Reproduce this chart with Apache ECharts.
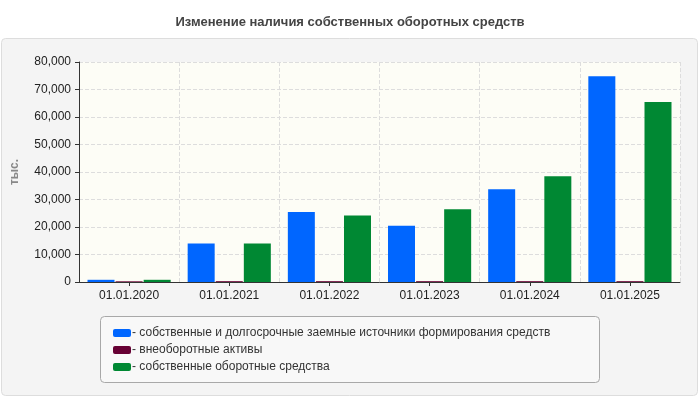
<!DOCTYPE html>
<html>
<head>
<meta charset="utf-8">
<script src="https://cdn.jsdelivr.net/npm/echarts@6/dist/echarts.min.js"></script>
<style>html,body{margin:0;padding:0;background:#fff}#main{width:700px;height:400px}</style>
</head>
<body>
<div id="main"></div>
<script>
const categories = ['01.01.2020', '01.01.2021', '01.01.2022', '01.01.2023', '01.01.2024', '01.01.2025'];
const ownAndLongTerm = [800, 14000, 25500, 20500, 33700, 74800];
const nonCurrent = [250, 300, 300, 300, 300, 300];
const ownCurrent = [800, 14000, 24200, 26500, 38500, 65500];
const yTicks = [0, 80000, 10000]; // min, max, interval

const chart = echarts.init(document.getElementById('main'));
const barCommon = { type: 'bar', barWidth: 27, barGap: '4%' };
chart.setOption({
    animation: false,
    textStyle: { fontFamily: 'Arial, "Liberation Sans", sans-serif' },
    title: {
        text: 'Изменение наличия собственных оборотных средств',
        left: 'center', top: 11,
        textStyle: { fontSize: 13, fontWeight: 'bold', color: '#444' }
    },
    graphic: [{
        type: 'rect', z: -10, silent: true,
        shape: { x: 1.5, y: 38.5, width: 696, height: 357, r: 4 },
        style: { fill: '#f4f4f4', stroke: '#dddddd', lineWidth: 1 }
    }, {
        type: 'rect', z: -5, silent: true,
        shape: { x: 100.5, y: 316.5, width: 499, height: 66, r: 4 },
        style: { fill: '#f8f8f8', stroke: '#a8a8a8', lineWidth: 1 }
    }],
    grid: { left: 79, right: 20, top: 62, bottom: 118, show: true, backgroundColor: '#fdfdf6', borderWidth: 0 },
    legend: {
        orient: 'vertical', left: 108, top: 322, itemGap: 5,
        itemWidth: 18, itemHeight: 8, icon: 'roundRect',
        formatter: name => '- ' + name,
        textStyle: { fontSize: 12, color: '#333', padding: [0, 0, 0, -4] }
    },
    xAxis: {
        type: 'category', data: categories,
        axisLine: { lineStyle: { color: '#333' } },
        axisTick: { show: true, alignWithLabel: true, inside: false, length: 4, lineStyle: { color: '#333' } },
        axisLabel: { color: '#222', fontSize: 12, margin: 8 },
        splitLine: { show: true, lineStyle: { type: 'dashed', color: '#ddd' } }
    },
    yAxis: {
        type: 'value', min: yTicks[0], max: yTicks[1], interval: yTicks[2],
        name: 'тыс.', nameLocation: 'middle', nameGap: 58,
        nameTextStyle: { color: '#888', fontWeight: 'bold', fontSize: 12 },
        axisLine: { show: true, lineStyle: { color: '#333' } },
        axisTick: { show: true, length: 4, lineStyle: { color: '#333' } },
        axisLabel: { color: '#222', fontSize: 12, margin: 8 },
        splitLine: { lineStyle: { type: 'dashed', color: '#ddd' } }
    },
    series: [
        { ...barCommon, name: 'собственные и долгосрочные заемные источники формирования средств', data: ownAndLongTerm, itemStyle: { color: '#0066ff' } },
        { ...barCommon, name: 'внеоборотные активы', data: nonCurrent, itemStyle: { color: '#660033' } },
        { ...barCommon, name: 'собственные оборотные средства', data: ownCurrent, itemStyle: { color: '#008833' } }
    ]
});
</script>
</body>
</html>
